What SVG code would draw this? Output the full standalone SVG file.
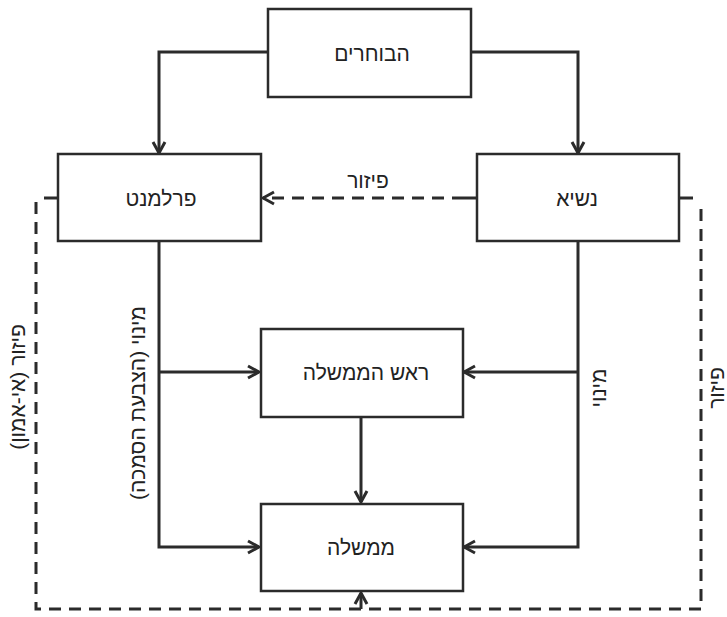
<svg xmlns="http://www.w3.org/2000/svg" width="727" height="617" viewBox="0 0 727 617">
  <style>
    .box { fill: #ffffff; stroke: #2b2b2b; stroke-width: 2.5; }
    .lbl { font-family: "Liberation Sans", "DejaVu Sans", sans-serif; font-size: 21px; fill: #222; text-anchor: middle; dominant-baseline: central; direction: rtl; }
    .wire { fill: none; stroke: #2b2b2b; stroke-width: 3; stroke-linejoin: miter; }
    .dash { fill: none; stroke: #2b2b2b; stroke-width: 3; stroke-dasharray: 12 8; }
  </style>
  <defs>
    <marker id="arrow" markerUnits="userSpaceOnUse" markerWidth="16" markerHeight="16" viewBox="0 0 16 16" refX="14" refY="8" orient="auto">
      <path d="M3,2 L14,8 L3,14" fill="none" stroke="#2b2b2b" stroke-width="3" stroke-linejoin="miter"/>
    </marker>
  </defs>

  <!-- connectors -->
  <g id="connectors">
    <!-- voters to parliament and president -->
    <path class="wire" d="M268,52 H159 V153" marker-end="url(#arrow)"/>
    <path class="wire" d="M471,52 H578 V153" marker-end="url(#arrow)"/>
    <!-- parliament appoints -->
    <path class="wire" d="M159,241 V547 H259" marker-end="url(#arrow)"/>
    <path class="wire" d="M159,372 H259" marker-end="url(#arrow)"/>
    <!-- president appoints -->
    <path class="wire" d="M578,241 V547 H464" marker-end="url(#arrow)"/>
    <path class="wire" d="M578,372 H464" marker-end="url(#arrow)"/>
    <!-- prime minister to government -->
    <path class="wire" d="M361,417 V502" marker-end="url(#arrow)"/>
    <!-- dissolution by president -->
    <path class="wire" d="M477,198 H464"/>
    <path class="dash" d="M464,198 H263" marker-end="url(#arrow)"/>
    <!-- no-confidence loop -->
    <path class="wire" d="M58,198 H44"/>
    <path class="wire" d="M679,198 H693"/>
    <path class="dash" d="M36,202 V609 H701 V202"/>
    <path class="wire" d="M361,609 V593" marker-end="url(#arrow)"/>
  </g>

  <!-- connector labels -->
  <g id="connector-labels">
    <text class="lbl" x="368" y="180">פיזור</text>
    <text class="lbl" transform="translate(137,403) rotate(-90)">מינוי (הצבעת הסמכה)</text>
    <text class="lbl" transform="translate(598,388) rotate(-90)">מינוי</text>
    <text class="lbl" transform="translate(17,387) rotate(-90)">פיזור (אי-אמון)</text>
    <text class="lbl" transform="translate(716,388) rotate(-90)">פיזור</text>
  </g>

  <g id="voters">
    <rect class="box" x="268" y="9" width="203" height="88"/>
    <text class="lbl" x="372" y="53">הבוחרים</text>
  </g>
  <g id="parliament">
    <rect class="box" x="58" y="154" width="203" height="87"/>
    <text class="lbl" x="161" y="198">פרלמנט</text>
  </g>
  <g id="president">
    <rect class="box" x="477" y="154" width="202" height="87"/>
    <text class="lbl" x="577" y="198">נשיא</text>
  </g>
  <g id="prime-minister">
    <rect class="box" x="261" y="329" width="202" height="88"/>
    <text class="lbl" x="366" y="372">ראש הממשלה</text>
  </g>
  <g id="government">
    <rect class="box" x="261" y="504" width="202" height="87"/>
    <text class="lbl" x="361" y="547">ממשלה</text>
  </g>
</svg>
